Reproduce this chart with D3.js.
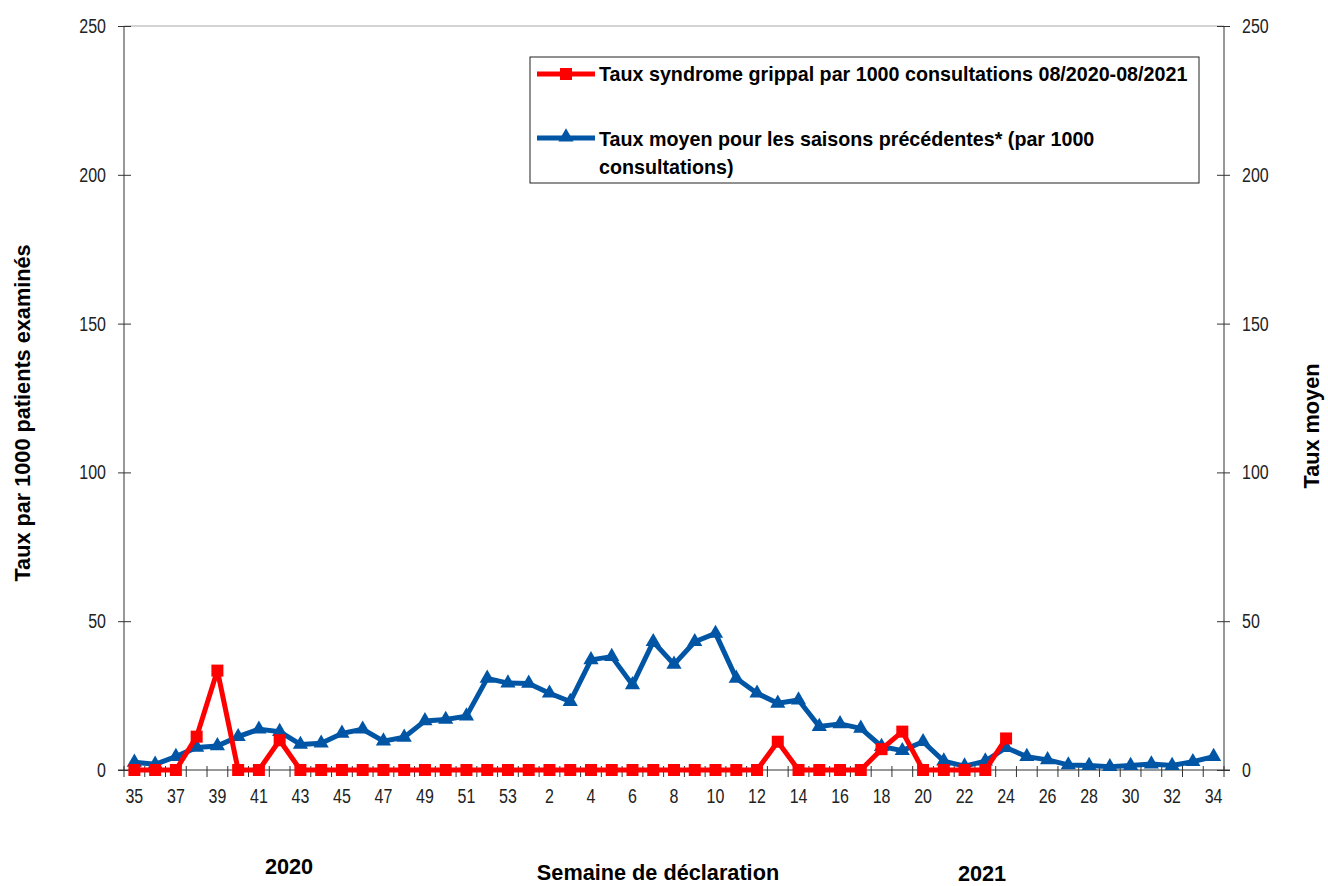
<!DOCTYPE html>
<html><head><meta charset="utf-8">
<script src="https://cdn.jsdelivr.net/npm/d3@7"></script>
<style>
body{margin:0;background:#fff;}
text{font-family:"Liberation Sans Narrow","Arial Narrow","Liberation Sans",Arial,sans-serif;}
</style></head>
<body><svg id="c" width="1328" height="886"></svg>
<script>
const weeks = ["35","36","37","38","39","40","41","42","43","44","45","46","47","48","49","50","51","52","53",
 "1","2","3","4","5","6","7","8","9","10","11","12","13","14","15","16","17","18","19","20","21","22","23","24",
 "25","26","27","28","29","30","31","32","33","34"];
const tickLabels = ["35","37","39","41","43","45","47","49","51","53","2","4","6","8","10","12","14","16","18","20","22","24","26","28","30","32","34"];
const redValues = [0,0,0,11.2,33.4,0,0,10,0,0,0,0,0,0,0,0,0,0,0,
 0,0,0,0,0,0,0,0,0,0,0,0,9.5,0,0,0,0,7,12.9,0,0,0,0,10.6,
 null,null,null,null,null,null,null,null,null,null];
const blueValues = [2.6,1.9,4.5,7.6,8.1,11.2,13.7,12.9,8.6,9.0,12.3,13.7,9.7,11.0,16.5,17.0,18.1,30.8,29.2,
 29.1,25.8,23.0,37.0,38.1,28.6,43.1,35.5,43.1,45.9,30.8,25.8,22.4,23.5,14.6,15.5,14.0,7.9,6.5,9.5,3.0,1.3,3.0,7.5,
 4.5,3.4,1.7,1.5,1.1,1.5,2.0,1.5,2.8,4.5];
const yTicks = [0,50,100,150,200,250];
const seriesNames = ["Taux syndrome grippal par 1000 consultations 08/2020-08/2021",
 ["Taux moyen pour les saisons précédentes* (par 1000","consultations)"]];

const svg = d3.select("#c");
const L=124,R=1224,T=26,B=770;
const x = d3.scaleBand().domain(weeks).range([L,R]);
const y = d3.scaleLinear().domain([0,250]).range([B,T]);
const NARROW = 0.82;

// top border
svg.append("line").attr("x1",L).attr("x2",R).attr("y1",T).attr("y2",T).attr("stroke","#aaa").attr("stroke-width",1);

// left axis
const gl = svg.append("g").attr("transform",`translate(${L},0)`)
 .call(d3.axisLeft(y).tickValues(yTicks).tickSize(6).tickFormat(""));
gl.selectAll(".tick line").attr("x2",-6).attr("x1",7);
gl.select(".domain").attr("d",`M0,${T}V${B}`);
// right axis
const gr = svg.append("g").attr("transform",`translate(${R},0)`)
 .call(d3.axisRight(y).tickValues(yTicks).tickSize(6).tickFormat(""));
gr.selectAll(".tick line").attr("x1",-7).attr("x2",6);
gr.select(".domain").attr("d",`M0,${T}V${B}`);
[gl,gr].forEach(g=>{g.selectAll("line,path").attr("stroke","#333");});
svg.append("g").selectAll("text").data(yTicks).join("text")
 .attr("transform",d=>`translate(106,${y(d)+7}) scale(${NARROW},1)`).attr("text-anchor","end")
 .attr("font-size",19.5).attr("fill","#222").text(d=>d);
svg.append("g").selectAll("text").data(yTicks).join("text")
 .attr("transform",d=>`translate(1242,${y(d)+7}) scale(${NARROW},1)`).attr("text-anchor","start")
 .attr("font-size",19.5).attr("fill","#222").text(d=>d);

// x axis
const gx = svg.append("g").attr("transform",`translate(0,${B})`);
gx.append("line").attr("x1",L-6).attr("x2",R+6).attr("stroke","#333");
gx.selectAll("line.t").data(weeks.concat(["end"])).join("line").attr("class","t")
 .attr("x1",(d,i)=> i<weeks.length ? x(d) : R).attr("x2",(d,i)=> i<weeks.length ? x(d) : R)
 .attr("y1",-4).attr("y2",7).attr("stroke","#333");
gx.selectAll("text").data(tickLabels).join("text")
 .attr("transform",d=>`translate(${x(d)+x.bandwidth()/2},33) scale(${NARROW},1)`).attr("text-anchor","middle")
 .attr("font-size",19.5).attr("fill","#222").text(d=>d);

// lines
const cx = d=>x(d)+x.bandwidth()/2;
const blueData = weeks.map((w,i)=>({w,v:blueValues[i]}));
const redData = weeks.map((w,i)=>({w,v:redValues[i]})).filter(d=>d.v!==null);
const line = d3.line().x(d=>cx(d.w)).y(d=>y(d.v));
svg.append("path").datum(blueData).attr("d",line).attr("fill","none").attr("stroke","#0055A5").attr("stroke-width",5).attr("stroke-linejoin","round");
svg.selectAll("path.tri").data(blueData).join("path").attr("class","tri")
 .attr("d",d3.symbol(d3.symbolTriangle,100)).attr("transform",d=>`translate(${cx(d.w)},${y(d.v)})`).attr("fill","#0055A5");
svg.append("path").datum(redData).attr("d",line).attr("fill","none").attr("stroke","#FF0000").attr("stroke-width",5).attr("stroke-linejoin","round");
svg.selectAll("rect.sq").data(redData).join("rect").attr("class","sq")
 .attr("x",d=>cx(d.w)-6).attr("y",d=>y(d.v)-6).attr("width",12).attr("height",12).attr("fill","#FF0000");

// axis titles
const TS = 21.7;
svg.append("text").attr("transform","translate(30,413) rotate(-90)").attr("text-anchor","middle")
 .attr("font-size",TS).attr("font-weight","bold").text("Taux par 1000 patients examinés");
svg.append("text").attr("transform","translate(1319,426) rotate(-90)").attr("text-anchor","middle")
 .attr("font-size",TS).attr("font-weight","bold").text("Taux moyen");
svg.append("text").attr("x",658).attr("y",880).attr("text-anchor","middle")
 .attr("font-size",TS).attr("font-weight","bold").text("Semaine de déclaration");
svg.append("text").attr("x",289).attr("y",874).attr("text-anchor","middle")
 .attr("font-size",TS).attr("font-weight","bold").text("2020");
svg.append("text").attr("x",982).attr("y",881).attr("text-anchor","middle")
 .attr("font-size",TS).attr("font-weight","bold").text("2021");

// legend
const LS = 19.7;
const lg = svg.append("g");
lg.append("rect").attr("x",530).attr("y",57).attr("width",669).attr("height",126).attr("fill","#fff").attr("stroke","#222").attr("stroke-width",1);
lg.append("line").attr("x1",537).attr("x2",595).attr("y1",74).attr("y2",74).attr("stroke","#FF0000").attr("stroke-width",5);
lg.append("rect").attr("x",560).attr("y",68).attr("width",12).attr("height",12).attr("fill","#FF0000");
lg.append("text").attr("x",599).attr("y",81).attr("font-size",LS).attr("font-weight","bold").text(seriesNames[0]);
lg.append("line").attr("x1",537).attr("x2",595).attr("y1",138).attr("y2",138).attr("stroke","#0055A5").attr("stroke-width",5);
lg.append("path").attr("d",d3.symbol(d3.symbolTriangle,100)).attr("transform","translate(566,137)").attr("fill","#0055A5");
lg.append("text").attr("x",599).attr("y",146).attr("font-size",LS).attr("font-weight","bold").text(seriesNames[1][0]);
lg.append("text").attr("x",599).attr("y",174).attr("font-size",LS).attr("font-weight","bold").text(seriesNames[1][1]);
</script></body></html>
